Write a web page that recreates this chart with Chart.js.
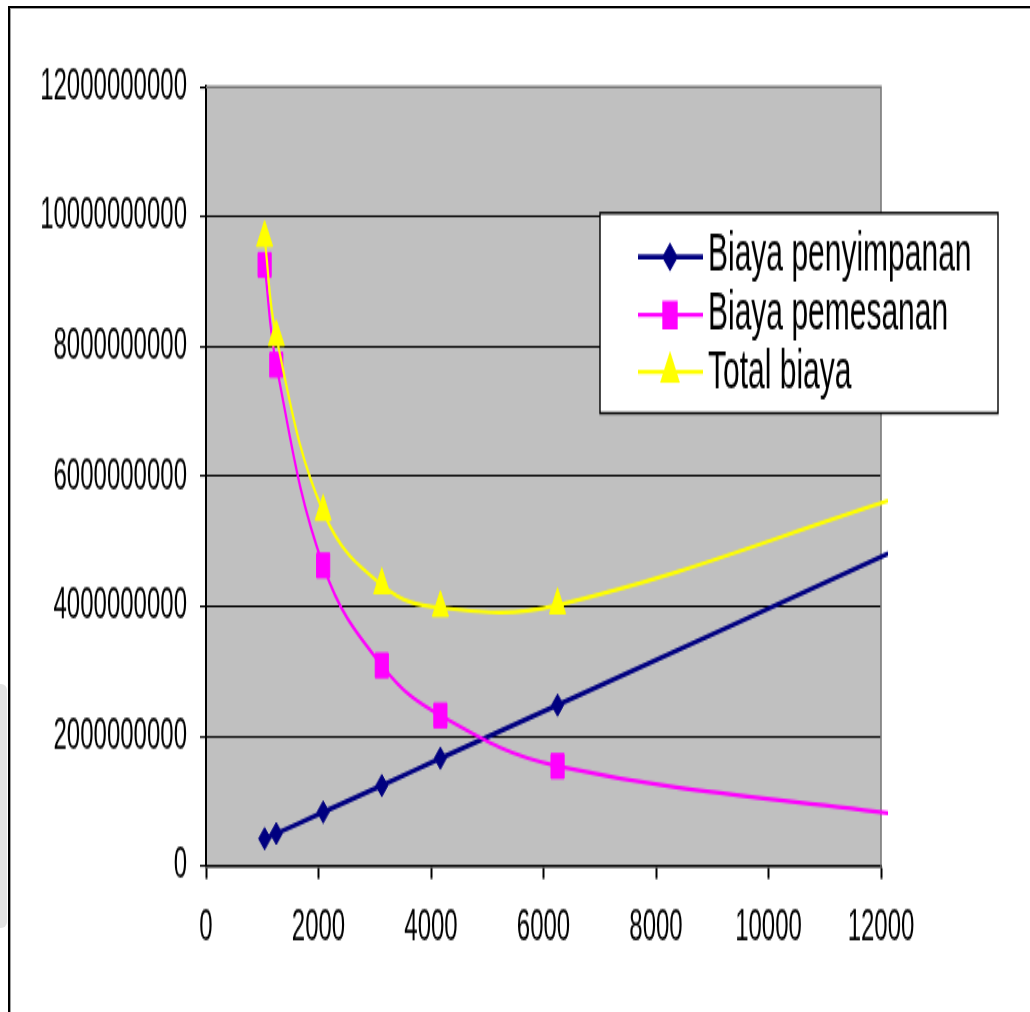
<!DOCTYPE html>
<html>
<head>
<meta charset="utf-8">
<title>Biaya persediaan</title>
<script src="https://cdn.jsdelivr.net/npm/chart.js@4/dist/chart.umd.min.js"></script>
<style>
  html, body { margin: 0; padding: 0; background: #fff; overflow: hidden; }
  #page { position: relative; width: 1030px; height: 1012px; overflow: hidden; background: #fff; }
  #frame {
    position: absolute; left: 8px; top: 6px; width: 1060px; height: 1060px;
    border-left: 2px solid #000; border-top: 2px solid #000;
    box-shadow: inset 1px 1px 0 #a0a0a0;
  }
  #smudge {
    position: absolute; left: 0; top: 684px; width: 7px; height: 244px;
    background: #e2e2e2; border-radius: 0 6px 6px 0;
  }
  /* the chart is laid out on a short canvas and stretched vertically */
  #stretch {
    position: absolute; left: 0; top: 0; width: 1030px; height: 550px;
    transform: scaleY(1.84); transform-origin: 0 0;
  }
  #chart { display: block; }
</style>
</head>
<body>
<div id="page">
  <div id="smudge"></div>
  <div id="frame"></div>
  <div id="stretch"><canvas id="chart" width="1030" height="550"></canvas></div>
</div>
<script>
// Order quantity (units per order)
const orderQty = [1042, 1250, 2083, 3125, 4167, 6250, 12500];
// Holding cost
const biayaPenyimpanan = [420000000, 500000000, 830000000, 1240000000, 1660000000, 2480000000, 4960000000];
// Ordering cost
const biayaPemesanan = [9260000000, 7720000000, 4630000000, 3090000000, 2320000000, 1540000000, 770000000];
// Total cost
const totalBiaya = [9680000000, 8150000000, 5460000000, 4330000000, 3980000000, 4020000000, 5730000000];

const seriesNames = ['Biaya penyimpanan', 'Biaya pemesanan', 'Total biaya'];
const xTickValues = [0, 2000, 4000, 6000, 8000, 10000, 12000];
const yTickValues = [0, 2000000000, 4000000000, 6000000000, 8000000000, 10000000000, 12000000000];

const FONT = '"Liberation Sans", Arial, sans-serif';

function toPoints(values) {
  return orderQty.map((q, i) => ({ x: q, y: values[i] }));
}

// grey plot area with a darker top/right edge
const plotFrame = {
  id: 'plotFrame',
  beforeDraw(chart) {
    const { ctx, chartArea: a } = chart;
    ctx.save();
    ctx.fillStyle = '#c0c0c0';
    ctx.fillRect(a.left, a.top, a.right - a.left, a.bottom - a.top);
    ctx.restore();
  },
  beforeDatasetsDraw(chart) {
    const { ctx, chartArea: a } = chart;
    ctx.save();
    ctx.strokeStyle = '#7a7a7a';
    ctx.lineWidth = 1.6;
    ctx.beginPath();
    ctx.moveTo(a.left, a.top);
    ctx.lineTo(a.right, a.top);
    ctx.lineTo(a.right, a.bottom);
    ctx.stroke();
    ctx.restore();
  }
};

// boxed legend placed over the plot area
const boxedLegend = {
  id: 'boxedLegend',
  afterDatasetsDraw(chart) {
    const { ctx } = chart;
    const box = { left: 600, top: 115.8, right: 998, bottom: 224.5 };
    ctx.save();
    ctx.fillStyle = '#ffffff';
    ctx.fillRect(box.left, box.top, box.right - box.left, box.bottom - box.top);
    ctx.strokeStyle = '#000000';
    ctx.lineWidth = 1.4;
    ctx.strokeRect(box.left, box.top, box.right - box.left, box.bottom - box.top);

    const lineY = [139.7, 171.2, 202.2];
    const textY = [146.7, 179.3, 210.9];
    const ordered = chart.data.datasets.slice().sort((a, b) => b.order - a.order);
    ordered.forEach((ds, i) => {
      ctx.strokeStyle = ds.borderColor;
      ctx.lineWidth = ds.borderWidth;
      ctx.beginPath();
      ctx.moveTo(638, lineY[i]);
      ctx.lineTo(703, lineY[i]);
      ctx.stroke();
      ctx.fillStyle = ds.pointBackgroundColor;
      ctx.strokeStyle = ds.pointBorderColor;
      Chart.helpers.drawPoint(ctx, {
        pointStyle: ds.pointStyle, radius: ds.pointRadius, rotation: 0, borderWidth: 1
      }, 670, lineY[i]);
      ctx.fillStyle = '#000000';
      ctx.font = '30px ' + FONT;
      ctx.textAlign = 'left';
      ctx.textBaseline = 'alphabetic';
      ctx.fillText(ds.label, 708, textY[i]);
    });
    ctx.restore();
  }
};

const seriesStyle = [
  { color: '#000080', pointStyle: 'rectRot', radius: 6, width: 2.7 },
  { color: '#ff00ff', pointStyle: 'rect', radius: 9.3, width: 2.2 },
  { color: '#ffff00', pointStyle: 'triangle', radius: 9.3, width: 2.2 }
];
const seriesValues = [biayaPenyimpanan, biayaPemesanan, totalBiaya];

// holding cost is drawn last so it sits on top
const datasets = seriesNames.map((name, i) => ({
  label: name,
  order: seriesNames.length - 1 - i,
  data: toPoints(seriesValues[i]),
  showLine: true,
  tension: 0.4,
  borderColor: seriesStyle[i].color,
  backgroundColor: seriesStyle[i].color,
  borderWidth: seriesStyle[i].width,
  pointStyle: seriesStyle[i].pointStyle,
  pointRadius: seriesStyle[i].radius,
  pointHoverRadius: seriesStyle[i].radius,
  pointBackgroundColor: seriesStyle[i].color,
  pointBorderColor: seriesStyle[i].color,
  pointBorderWidth: 1,
  clip: { left: 5, top: 5, right: 7, bottom: 5 }
}));

new Chart(document.getElementById('chart'), {
  type: 'scatter',
  data: { datasets },
  options: {
    responsive: false,
    animation: false,
    devicePixelRatio: 1,
    layout: { padding: { left: 0, right: 149, top: 47.3, bottom: 19.35 } },
    plugins: { legend: { display: false }, tooltip: { enabled: false } },
    scales: {
      x: {
        type: 'linear',
        min: 0, max: 12000,
        afterBuildTicks(scale) { scale.ticks = xTickValues.map(v => ({ value: v })); },
        afterFit(scale) { scale.height = 60; },
        ticks: {
          color: '#000', padding: 12,
          font: { family: FONT, size: 24 },
          maxRotation: 0,
          callback: v => String(v)
        },
        grid: {
          drawOnChartArea: false, drawTicks: true, tickLength: 7,
          tickColor: '#000', tickWidth: 2
        },
        border: { display: true, color: '#000', width: 1.6 }
      },
      y: {
        type: 'linear',
        min: 0, max: 12000000000,
        afterBuildTicks(scale) { scale.ticks = yTickValues.map(v => ({ value: v })); },
        afterFit(scale) { scale.width = 206; },
        ticks: {
          color: '#000', padding: 13,
          font: { family: FONT, size: 24 },
          callback: v => String(v)
        },
        grid: {
          color: ctx => (ctx.tick && ctx.tick.value === 12000000000) ? 'rgba(0,0,0,0)' : '#000',
          lineWidth: 1.1,
          drawTicks: true, tickLength: 6,
          tickColor: '#000', tickWidth: 1.1
        },
        border: { display: true, color: '#000', width: 2 }
      }
    }
  },
  plugins: [plotFrame, boxedLegend]
});
</script>
</body>
</html>
